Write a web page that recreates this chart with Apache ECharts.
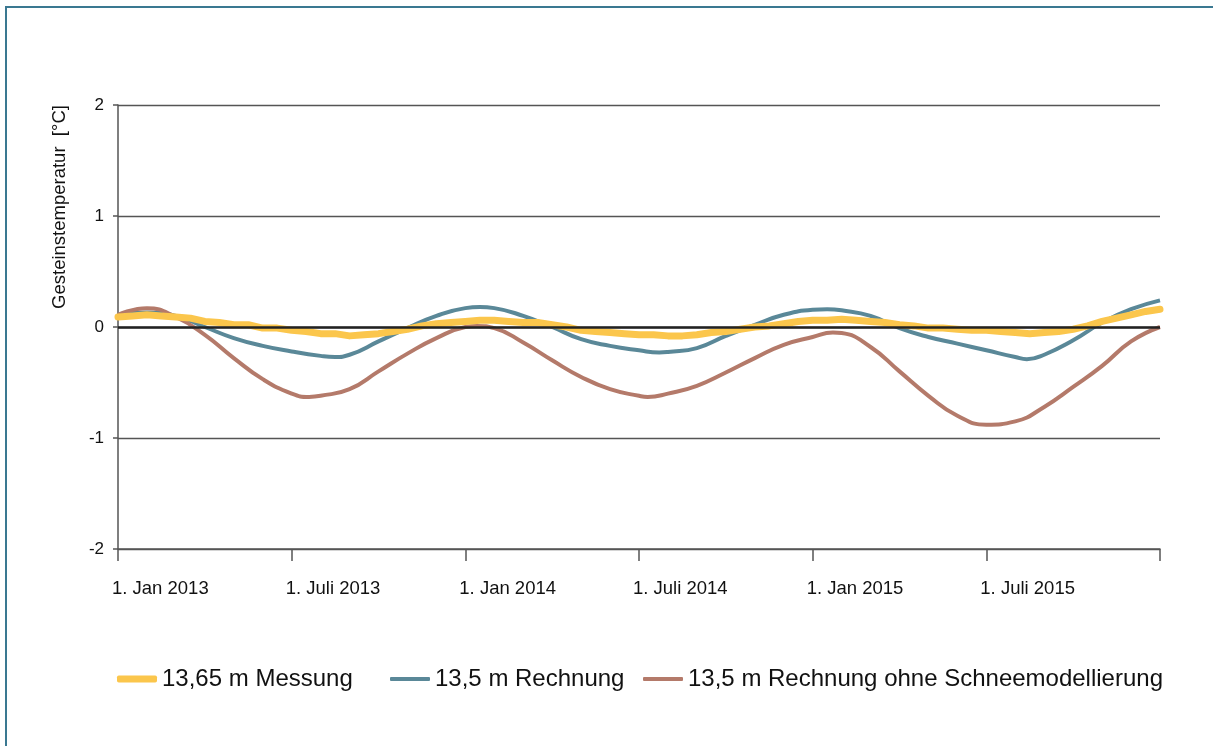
<!DOCTYPE html>
<html>
<head>
<meta charset="utf-8">
<script src="https://cdn.jsdelivr.net/npm/echarts@6/dist/echarts.min.js"></script>
<style>
  html, body { margin: 0; padding: 0; background: #fff; }
  #chart { width: 1213px; height: 746px; }
</style>
</head>
<body>
<div id="chart"></div>
<script>
// x values are months since 1. Jan 2013
const halfMonths = [0, 0.5, 1, 1.5, 2, 2.5, 3, 3.5, 4, 4.5, 5, 5.5, 6, 6.5, 7, 7.5, 8, 8.5,
  9, 9.5, 10, 10.5, 11, 11.5, 12, 12.5, 13, 13.5, 14, 14.5, 15, 15.5, 16, 16.5, 17, 17.5,
  18, 18.5, 19, 19.5, 20, 20.5, 21, 21.5, 22, 22.5, 23, 23.5, 24, 24.5, 25, 25.5, 26, 26.5,
  27, 27.5, 28, 28.5, 29, 29.5, 30, 30.5, 31, 31.5, 32, 32.5, 33, 33.5, 34, 34.5, 35, 35.5, 36];
const messung = [0.09, 0.10, 0.11, 0.10, 0.09, 0.08, 0.05, 0.04, 0.02, 0.02, -0.01, -0.01,
  -0.03, -0.04, -0.06, -0.06, -0.08, -0.07, -0.06, -0.04, -0.02, 0.01, 0.03, 0.04,
  0.05, 0.06, 0.06, 0.05, 0.04, 0.04, 0.02, 0.00, -0.03, -0.04, -0.05, -0.06,
  -0.07, -0.07, -0.08, -0.08, -0.07, -0.05, -0.04, -0.02, 0.00, 0.01, 0.03, 0.05,
  0.06, 0.06, 0.07, 0.06, 0.05, 0.04, 0.02, 0.01, -0.01, -0.01, -0.02, -0.03,
  -0.03, -0.04, -0.05, -0.06, -0.05, -0.04, -0.02, 0.01, 0.05, 0.08, 0.11, 0.14, 0.16];

const rechnungMonths = [0, 1, 2, 3, 4, 5, 6, 7, 7.5, 8, 9, 10, 11, 12, 12.5, 13, 14, 15, 16,
  17, 18, 18.7, 19, 20, 21, 22, 23, 24, 24.5, 25, 26, 27, 28, 29, 30, 31, 31.4, 32, 33, 34, 35, 36];
const rechnung = [0.11, 0.13, 0.10, 0.00, -0.10, -0.17, -0.22, -0.26, -0.27, -0.25, -0.13, -0.01, 0.10,
  0.17, 0.18, 0.17, 0.10, 0.00, -0.11, -0.17, -0.21, -0.23, -0.225, -0.19, -0.08, 0.02, 0.11,
  0.155, 0.16, 0.15, 0.10, -0.01, -0.09, -0.15, -0.21, -0.27, -0.29, -0.25, -0.12, 0.04, 0.16, 0.24];

const ohneMonths = [0, 1, 2, 3, 4, 5, 6, 6.6, 7, 8, 9, 10, 11, 12, 12.4, 13, 14, 15, 16, 17,
  18, 18.3, 19, 20, 21, 22, 23, 24, 24.7, 25, 26, 27, 28, 29, 30, 31, 32, 33, 34, 35, 36];
const ohneSchnee = [0.11, 0.17, 0.09, -0.07, -0.28, -0.47, -0.60, -0.63, -0.62, -0.56, -0.40, -0.24,
  -0.10, 0.00, 0.01, -0.01, -0.14, -0.30, -0.45, -0.56, -0.62, -0.63, -0.60, -0.53, -0.41, -0.28,
  -0.16, -0.09, -0.05, -0.055, -0.18, -0.40, -0.62, -0.80, -0.88, -0.85, -0.72, -0.54, -0.35, -0.13, 0.00];

const xTickLabels = ['1. Jan 2013', '1. Juli 2013', '1. Jan 2014', '1. Juli 2014',
  '1. Jan 2015', '1. Juli 2015', ''];
const yTickLabels = ['-2', '-1', '0', '1', '2'];

const seriesNames = ['13,65 m Messung', '13,5 m Rechnung', '13,5 m Rechnung ohne Schneemodellierung'];
const colors = ['#fbc64c', '#5a8898', '#b47a6a'];

function zip(xs, ys) {
  return xs.map((x, i) => [x, ys[i]]);
}

const chart = echarts.init(document.getElementById('chart'));
const font = "'Liberation Sans', Arial, sans-serif";

function legendFor(i, left, thick) {
  return {
    data: [seriesNames[i]],
    left: left,
    top: 667,
    padding: 0,
    icon: 'roundRect',
    itemWidth: 40,
    itemHeight: thick,
    itemStyle: { borderWidth: 0 },
    textStyle: { fontSize: 24, color: '#111', fontFamily: font }
  };
}

const option = {
  animation: false,
  backgroundColor: '#fff',
  textStyle: { fontFamily: font },
  graphic: [
    {
      type: 'rect',
      shape: { x: 6, y: 7, width: 1400, height: 1000 },
      style: { fill: 'none', stroke: '#3a7891', lineWidth: 2 },
      silent: true
    },
    {
      type: 'text',
      x: 60,
      y: 207,
      rotation: Math.PI / 2,
      style: {
        text: 'Gesteinstemperatur  [°C]',
        font: '18.5px ' + font,
        fill: '#111',
        textAlign: 'center',
        textVerticalAlign: 'middle'
      },
      silent: true
    }
  ],
  grid: { left: 118, right: 53, top: 105, bottom: 197 },
  legend: [
    legendFor(0, 117, 7),
    legendFor(1, 390, 4),
    legendFor(2, 643, 4)
  ],
  xAxis: {
    type: 'value',
    min: 0,
    max: 36,
    interval: 6,
    axisLine: { onZero: false, lineStyle: { color: '#555', width: 1.5 } },
    axisTick: { show: true, length: 12, lineStyle: { color: '#555', width: 1.5 } },
    axisLabel: {
      margin: 30,
      fontSize: 18.5,
      color: '#111',
      fontFamily: font,
      align: 'left',
      padding: [0, 0, 0, -6],
      formatter: v => xTickLabels[Math.round(v / 6)]
    },
    splitLine: { show: false }
  },
  yAxis: {
    type: 'value',
    min: -2,
    max: 2,
    interval: 1,
    axisLine: { show: true, onZero: false, lineStyle: { color: '#555', width: 1.5 } },
    axisTick: { show: true, length: 5, lineStyle: { color: '#555', width: 1.5 } },
    axisLabel: {
      margin: 14,
      fontSize: 17,
      color: '#111',
      fontFamily: font,
      formatter: v => yTickLabels[Math.round(v + 2)]
    },
    splitLine: { lineStyle: { color: '#555', width: 1.3 } }
  },
  series: [
    {
      name: 'null',
      type: 'line',
      data: [],
      z: 1,
      markLine: {
        silent: true,
        symbol: ['none', 'none'],
        label: { show: false },
        lineStyle: { color: '#222', width: 2.5, type: 'solid' },
        data: [{ yAxis: 0 }]
      }
    },
    {
      name: seriesNames[1],
      type: 'line',
      data: zip(rechnungMonths, rechnung),
      smooth: true,
      symbol: 'none',
      z: 2,
      color: colors[1],
      lineStyle: { width: 4, color: colors[1] }
    },
    {
      name: seriesNames[2],
      type: 'line',
      data: zip(ohneMonths, ohneSchnee),
      smooth: true,
      symbol: 'none',
      z: 3,
      color: colors[2],
      lineStyle: { width: 4, color: colors[2] }
    },
    {
      name: seriesNames[0],
      type: 'line',
      data: zip(halfMonths, messung),
      smooth: false,
      symbol: 'none',
      z: 4,
      color: colors[0],
      lineStyle: { width: 7, color: colors[0], cap: 'round', join: 'round' }
    }
  ]
};

chart.setOption(option);
</script>
</body>
</html>
